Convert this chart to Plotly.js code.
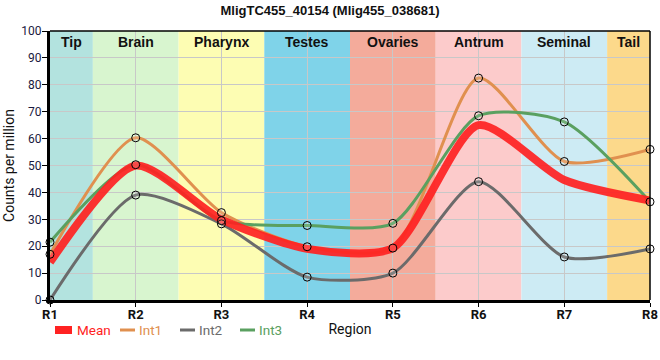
<!DOCTYPE html>
<html><head><meta charset="utf-8">
<script src="https://cdn.plot.ly/plotly-3.0.1.min.js"></script>
<style>html,body{margin:0;padding:0;background:#fff}#chart{width:660px;height:360px}</style>
</head><body><div id="chart"></div>
<script>
const regions = ["R1","R2","R3","R4","R5","R6","R7","R8"];
const bandNames = ["Tip","Brain","Pharynx","Testes","Ovaries","Antrum","Seminal","Tail"];
const bandColors = ["#b3e3df","#d8f5cf","#fdfdb3","#7fd3e9","#f4ab9b","#fccbcb","#cdebf4","#fcd98b"];
const meanVals = [14, 50, 30, 19, 19.3, 65, 44.6, 37];
const int1Vals = [17, 60.3, 32.5, 19.8, 19.3, 82.5, 51.5, 56];
const int2Vals = [0, 39, 28.3, 8.5, 10, 44, 16, 19];
const int3Vals = [21.5, 50.3, 29.5, 27.7, 28.5, 68.5, 66.2, 36.5];
const seriesNames = ["Mean","Int1","Int2","Int3"];
const seriesColors = ["#ff2222","#e0904f","#6b6b6b","#5aa060"];

const SM = 0.7;
const intData = [int1Vals, int2Vals, int3Vals];
const traces = [];
intData.forEach((vals, i) => {
  traces.push({
    x: regions, y: vals, type: "scatter", mode: "lines", name: seriesNames[i + 1],
    line: {color: seriesColors[i + 1], width: 3, shape: "spline", smoothing: SM}, showlegend: false
  });
});
traces.push({
  x: regions, y: meanVals, type: "scatter", mode: "lines", name: seriesNames[0],
  line: {color: seriesColors[0], width: 8, shape: "spline", smoothing: SM},
  opacity: 0.92, showlegend: false
});
intData.forEach((vals, i) => {
  traces.push({
    x: regions, y: vals, type: "scatter", mode: "markers", showlegend: false,
    marker: {symbol: "circle", size: 8, color: "rgba(255,255,255,0.15)", line: {color: "#000", width: 1}},
    cliponaxis: false
  });
});

const shapes = bandNames.map((n, i) => ({
  type: "rect", xref: "x", yref: "paper", layer: "below",
  x0: Math.max(i - 0.5, 0), x1: Math.min(i + 0.5, regions.length - 1), y0: 0, y1: 1,
  fillcolor: bandColors[i], line: {width: 0}
}));
const annotations = bandNames.map((n, i) => ({
  xref: "x", yref: "paper", x: (Math.max(i - 0.5, 0) + Math.min(i + 0.5, regions.length - 1)) / 2,
  y: 1, yanchor: "top", yshift: -1, showarrow: false, text: "<b>" + n + "</b>",
  font: {family: "Liberation Sans, Arial, sans-serif", size: 14, color: "#111"}
}));

// legend drawn in paper pixel space below the plot
const W = 600, H = 269; // plot area size in px
const legY = -(330 - 300) / H;
const legX0 = [55, 120, 180, 240];
const legText = [75, 137, 197, 257];
seriesNames.forEach((n, i) => {
  shapes.push({type: "line", xref: "paper", yref: "paper",
    x0: (legX0[i] - 50) / W, x1: (legX0[i] + (i === 0 ? 17 : 15) - 50) / W, y0: legY, y1: legY,
    line: {color: seriesColors[i], width: i === 0 ? 8 : 3}});
  annotations.push({xref: "paper", yref: "paper", x: (legText[i] - 50) / W, y: legY,
    xanchor: "left", yanchor: "middle", showarrow: false, text: n,
    font: {family: "Roboto, sans-serif", size: 13.5, color: seriesColors[i]}});
});

const layout = {
  width: 660, height: 360,
  margin: {l: 50, r: 10, t: 31, b: 60, autoexpand: false},
  paper_bgcolor: "#fff", plot_bgcolor: "#fff",
  title: {text: "<b>MligTC455_40154 (Mlig455_038681)</b>", x: 0.5, xanchor: "center", y: 0.985, yanchor: "top",
          font: {family: "Liberation Sans, Arial, sans-serif", size: 13, color: "#111"}},
  xaxis: {type: "category", range: [0, 7], showgrid: true, gridcolor: "#c8c8c8", gridwidth: 1,
          showline: true, linecolor: "#000", linewidth: 3,
          ticks: "outside", ticklen: 4, tickcolor: "#000", automargin: true, ticklabelstandoff: -4,
          tickfont: {family: "Roboto, sans-serif", size: 13, color: "#111", weight: "bold"},
          title: {text: "Region", standoff: 4, font: {family: "Roboto, sans-serif", size: 14, color: "#111"}},
          layer: "above traces", zeroline: false},
  yaxis: {range: [0, 100], dtick: 10, showgrid: true, gridcolor: "#c8c8c8", gridwidth: 1,
          showline: true, linecolor: "#000", linewidth: 3, ticks: "outside", ticklen: 5, tickcolor: "#000",
          automargin: true, ticklabelstandoff: -2,
          tickfont: {family: "Roboto, sans-serif", size: 12, color: "#1a1a40"},
          title: {text: "Counts per million", standoff: 4, font: {family: "Roboto, sans-serif", size: 14, color: "#111"}},
          zeroline: false, layer: "above traces"},
  shapes: shapes.concat([
    {type: "line", xref: "paper", yref: "paper", x0: 0, x1: 1, y0: 1, y1: 1, line: {color: "#000", width: 1.5}},
    {type: "line", xref: "paper", yref: "paper", x0: 1, x1: 1, y0: 0, y1: 1, line: {color: "#000", width: 1.5}}
  ]),
  annotations: annotations,
  showlegend: false
};
Plotly.newPlot("chart", traces, layout, {staticPlot: true, displayModeBar: false});
</script></body></html>
